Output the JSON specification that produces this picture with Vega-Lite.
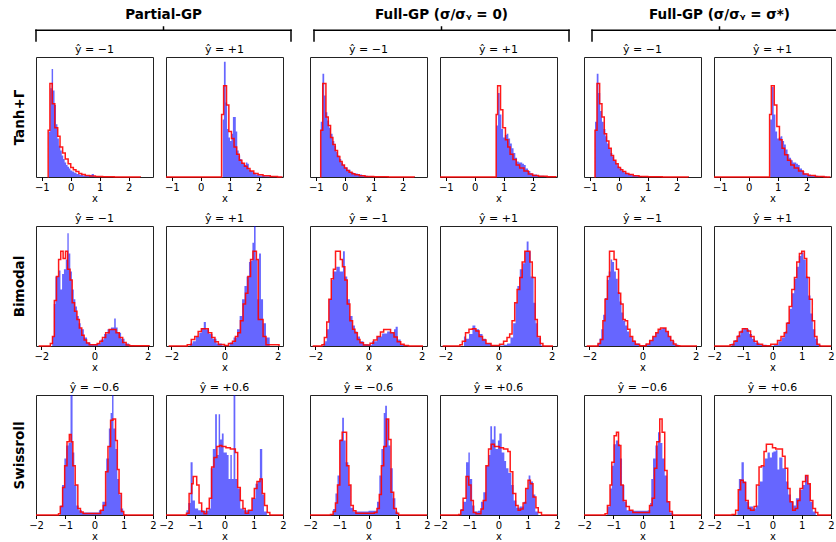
{
"$schema": "https://vega.github.io/schema/vega-lite/v6.json",
"padding": {"left": 11, "top": 8, "right": 0, "bottom": 0},
"config": {
  "font": "DejaVu Sans",
  "view": {"stroke": "#222", "strokeWidth": 1},
  "axis": {"grid": false, "domain": false, "tickColor": "#000", "labelColor": "#000", "titleColor": "#000", "labelFontSize": 10, "titleFontSize": 10, "titleFontWeight": "normal", "tickSize": 3.5, "labelPadding": 2, "titlePadding": 1, "labelFlush": false, "labelOverlap": false},
  "title": {"fontSize": 11, "fontWeight": "normal", "offset": 2, "color": "#000"}
},
"datasets": {
"bracket": [{"a":0,"a2":1,"b":1,"b2":1},{"a":0,"a2":0,"b":0,"b2":1},{"a":1,"a2":1,"b":0,"b2":1},{"a":0.5,"a2":0.5,"b":1,"b2":1.3}],
"b1": [{"x":-0.76,"h":0.38},{"x":-0.71,"h":0.74},{"x":-0.66,"h":0.9},{"x":-0.61,"h":0.72},{"x":-0.56,"h":0.6},{"x":-0.51,"h":0.44},{"x":-0.46,"h":0.32},{"x":-0.41,"h":0.26},{"x":-0.36,"h":0.22},{"x":-0.31,"h":0.18},{"x":-0.26,"h":0.15},{"x":-0.21,"h":0.12},{"x":-0.16,"h":0.1},{"x":-0.11,"h":0.085},{"x":-0.06,"h":0.07},{"x":-0.01,"h":0.055},{"x":0.05,"h":0.045},{"x":0.12,"h":0.035},{"x":0.2,"h":0.025},{"x":0.3,"h":0.018},{"x":0.42,"h":0.012},{"x":0.55,"h":0.01},{"x":0.65,"h":0.015},{"x":0.72,"h":0.025},{"x":0.8,"h":0.006},{"x":1.0,"h":0.003},{"x":1.3,"h":0}],
"r1": [{"x":-0.8,"h":0},{"x":-0.78,"h":0.39},{"x":-0.72,"h":0.78},{"x":-0.64,"h":0.61},{"x":-0.55,"h":0.41},{"x":-0.45,"h":0.34},{"x":-0.37,"h":0.25},{"x":-0.28,"h":0.2},{"x":-0.19,"h":0.15},{"x":-0.09,"h":0.11},{"x":0.0,"h":0.08},{"x":0.09,"h":0.06},{"x":0.18,"h":0.045},{"x":0.28,"h":0.03},{"x":0.38,"h":0.02},{"x":0.5,"h":0.013},{"x":0.65,"h":0.008},{"x":0.85,"h":0.004},{"x":1.1,"h":0.002},{"x":1.5,"h":0.001},{"x":2.4,"h":0}],
"b2": [{"x":0.76,"h":0.48},{"x":0.8,"h":0.96},{"x":0.86,"h":0.62},{"x":0.91,"h":0.4},{"x":0.96,"h":0.33},{"x":1.01,"h":0.3},{"x":1.06,"h":0.36},{"x":1.11,"h":0.5},{"x":1.16,"h":0.5},{"x":1.21,"h":0.38},{"x":1.26,"h":0.22},{"x":1.31,"h":0.18},{"x":1.36,"h":0.15},{"x":1.41,"h":0.12},{"x":1.46,"h":0.11},{"x":1.51,"h":0.1},{"x":1.56,"h":0.12},{"x":1.61,"h":0.11},{"x":1.66,"h":0.06},{"x":1.72,"h":0.05},{"x":1.8,"h":0.035},{"x":1.9,"h":0.02},{"x":2.0,"h":0.012},{"x":2.2,"h":0.006},{"x":2.5,"h":0.002},{"x":2.8,"h":0}],
"r2": [{"x":-1.2,"h":0},{"x":0.72,"h":0.52},{"x":0.79,"h":0.76},{"x":0.89,"h":0.6},{"x":0.97,"h":0.38},{"x":1.06,"h":0.32},{"x":1.15,"h":0.25},{"x":1.24,"h":0.19},{"x":1.33,"h":0.14},{"x":1.42,"h":0.115},{"x":1.51,"h":0.09},{"x":1.6,"h":0.07},{"x":1.7,"h":0.05},{"x":1.83,"h":0.03},{"x":1.98,"h":0.018},{"x":2.15,"h":0.01},{"x":2.4,"h":0.004},{"x":2.65,"h":0.001},{"x":2.8,"h":0}],
"b3": [{"x":-0.83,"h":0.46},{"x":-0.77,"h":0.86},{"x":-0.71,"h":0.68},{"x":-0.66,"h":0.54},{"x":-0.6,"h":0.47},{"x":-0.54,"h":0.41},{"x":-0.48,"h":0.36},{"x":-0.42,"h":0.3},{"x":-0.36,"h":0.26},{"x":-0.3,"h":0.21},{"x":-0.24,"h":0.18},{"x":-0.18,"h":0.15},{"x":-0.12,"h":0.12},{"x":-0.06,"h":0.1},{"x":0.0,"h":0.08},{"x":0.1,"h":0.06},{"x":0.2,"h":0.04},{"x":0.3,"h":0.03},{"x":0.45,"h":0.02},{"x":0.6,"h":0.01},{"x":0.8,"h":0.006},{"x":1.0,"h":0.003},{"x":1.4,"h":0}],
"r3": [{"x":-0.85,"h":0},{"x":-0.83,"h":0.39},{"x":-0.76,"h":0.78},{"x":-0.65,"h":0.5},{"x":-0.57,"h":0.43},{"x":-0.49,"h":0.33},{"x":-0.41,"h":0.27},{"x":-0.33,"h":0.22},{"x":-0.25,"h":0.17},{"x":-0.17,"h":0.13},{"x":-0.09,"h":0.1},{"x":-0.01,"h":0.075},{"x":0.07,"h":0.055},{"x":0.15,"h":0.04},{"x":0.25,"h":0.028},{"x":0.35,"h":0.018},{"x":0.5,"h":0.01},{"x":0.7,"h":0.005},{"x":1.0,"h":0.002},{"x":1.5,"h":0.001},{"x":2.4,"h":0}],
"b4": [{"x":0.74,"h":0.43},{"x":0.8,"h":0.7},{"x":0.86,"h":0.52},{"x":0.92,"h":0.4},{"x":0.98,"h":0.33},{"x":1.04,"h":0.35},{"x":1.1,"h":0.36},{"x":1.16,"h":0.32},{"x":1.22,"h":0.28},{"x":1.28,"h":0.24},{"x":1.34,"h":0.2},{"x":1.4,"h":0.16},{"x":1.46,"h":0.13},{"x":1.52,"h":0.12},{"x":1.58,"h":0.12},{"x":1.64,"h":0.11},{"x":1.7,"h":0.1},{"x":1.76,"h":0.07},{"x":1.84,"h":0.05},{"x":1.92,"h":0.03},{"x":2.0,"h":0.02},{"x":2.15,"h":0.01},{"x":2.4,"h":0.004},{"x":2.7,"h":0}],
"r4": [{"x":-1.2,"h":0},{"x":0.74,"h":0.52},{"x":0.79,"h":0.76},{"x":0.89,"h":0.56},{"x":0.97,"h":0.41},{"x":1.06,"h":0.31},{"x":1.14,"h":0.25},{"x":1.22,"h":0.19},{"x":1.32,"h":0.145},{"x":1.43,"h":0.1},{"x":1.55,"h":0.075},{"x":1.7,"h":0.05},{"x":1.85,"h":0.025},{"x":2.0,"h":0.012},{"x":2.2,"h":0.006},{"x":2.5,"h":0.002},{"x":2.8,"h":0}],
"b5": [{"x":-0.82,"h":0.46},{"x":-0.76,"h":0.86},{"x":-0.7,"h":0.7},{"x":-0.64,"h":0.55},{"x":-0.58,"h":0.46},{"x":-0.52,"h":0.4},{"x":-0.46,"h":0.34},{"x":-0.4,"h":0.28},{"x":-0.34,"h":0.24},{"x":-0.28,"h":0.2},{"x":-0.22,"h":0.17},{"x":-0.16,"h":0.14},{"x":-0.1,"h":0.11},{"x":-0.04,"h":0.09},{"x":0.02,"h":0.07},{"x":0.1,"h":0.05},{"x":0.2,"h":0.035},{"x":0.3,"h":0.025},{"x":0.45,"h":0.015},{"x":0.6,"h":0.008},{"x":0.8,"h":0.004},{"x":1.0,"h":0.002},{"x":1.4,"h":0}],
"r5": [{"x":-0.84,"h":0},{"x":-0.82,"h":0.39},{"x":-0.75,"h":0.78},{"x":-0.66,"h":0.61},{"x":-0.58,"h":0.5},{"x":-0.5,"h":0.36},{"x":-0.42,"h":0.3},{"x":-0.34,"h":0.24},{"x":-0.26,"h":0.18},{"x":-0.18,"h":0.14},{"x":-0.1,"h":0.11},{"x":-0.02,"h":0.08},{"x":0.06,"h":0.06},{"x":0.14,"h":0.045},{"x":0.24,"h":0.03},{"x":0.35,"h":0.02},{"x":0.5,"h":0.011},{"x":0.7,"h":0.005},{"x":1.0,"h":0.002},{"x":1.5,"h":0.001},{"x":2.4,"h":0}],
"b6": [{"x":0.74,"h":0.48},{"x":0.8,"h":0.75},{"x":0.86,"h":0.52},{"x":0.92,"h":0.38},{"x":0.98,"h":0.32},{"x":1.04,"h":0.33},{"x":1.1,"h":0.34},{"x":1.16,"h":0.3},{"x":1.22,"h":0.27},{"x":1.28,"h":0.23},{"x":1.34,"h":0.19},{"x":1.4,"h":0.16},{"x":1.46,"h":0.14},{"x":1.52,"h":0.12},{"x":1.58,"h":0.12},{"x":1.64,"h":0.11},{"x":1.7,"h":0.1},{"x":1.76,"h":0.07},{"x":1.84,"h":0.05},{"x":1.92,"h":0.03},{"x":2.0,"h":0.02},{"x":2.15,"h":0.01},{"x":2.4,"h":0.004},{"x":2.7,"h":0}],
"r6": [{"x":-1.2,"h":0},{"x":0.72,"h":0.52},{"x":0.78,"h":0.76},{"x":0.88,"h":0.6},{"x":0.97,"h":0.42},{"x":1.06,"h":0.31},{"x":1.15,"h":0.24},{"x":1.24,"h":0.185},{"x":1.34,"h":0.14},{"x":1.45,"h":0.1},{"x":1.57,"h":0.075},{"x":1.72,"h":0.05},{"x":1.88,"h":0.025},{"x":2.05,"h":0.012},{"x":2.3,"h":0.005},{"x":2.6,"h":0.001},{"x":2.8,"h":0}],
"b7": [{"x":-1.59,"h":0.08},{"x":-1.53,"h":0.35},{"x":-1.47,"h":0.58},{"x":-1.4,"h":0.58},{"x":-1.34,"h":0.63},{"x":-1.28,"h":0.47},{"x":-1.22,"h":0.6},{"x":-1.15,"h":0.64},{"x":-1.08,"h":0.72},{"x":-1.02,"h":0.94},{"x":-0.97,"h":0.77},{"x":-0.91,"h":0.62},{"x":-0.85,"h":0.47},{"x":-0.78,"h":0.39},{"x":-0.72,"h":0.33},{"x":-0.66,"h":0.25},{"x":-0.59,"h":0.19},{"x":-0.52,"h":0.14},{"x":-0.4,"h":0.07},{"x":-0.28,"h":0.03},{"x":-0.15,"h":0.015},{"x":0.1,"h":0.02},{"x":0.23,"h":0.055},{"x":0.36,"h":0.1},{"x":0.49,"h":0.14},{"x":0.62,"h":0.155},{"x":0.74,"h":0.23},{"x":0.8,"h":0.155},{"x":0.87,"h":0.11},{"x":1.0,"h":0.06},{"x":1.13,"h":0.02},{"x":1.3,"h":0.005},{"x":1.5,"h":0}],
"r7": [{"x":-2.1,"h":0},{"x":-1.66,"h":0.02},{"x":-1.58,"h":0.08},{"x":-1.51,"h":0.38},{"x":-1.43,"h":0.58},{"x":-1.35,"h":0.72},{"x":-1.27,"h":0.79},{"x":-1.18,"h":0.73},{"x":-1.09,"h":0.79},{"x":-1.01,"h":0.64},{"x":-0.92,"h":0.55},{"x":-0.84,"h":0.36},{"x":-0.75,"h":0.29},{"x":-0.66,"h":0.22},{"x":-0.57,"h":0.15},{"x":-0.48,"h":0.09},{"x":-0.39,"h":0.05},{"x":-0.3,"h":0.025},{"x":-0.2,"h":0.01},{"x":0.1,"h":0.02},{"x":0.2,"h":0.04},{"x":0.3,"h":0.07},{"x":0.42,"h":0.11},{"x":0.55,"h":0.138},{"x":0.81,"h":0.11},{"x":0.93,"h":0.07},{"x":1.06,"h":0.03},{"x":1.19,"h":0.008},{"x":1.32,"h":0.002},{"x":2.05,"h":0}],
"b8": [{"x":-1.3,"h":0.02},{"x":-1.2,"h":0.04},{"x":-1.08,"h":0.08},{"x":-0.95,"h":0.11},{"x":-0.86,"h":0.15},{"x":-0.78,"h":0.2},{"x":-0.7,"h":0.14},{"x":-0.58,"h":0.1},{"x":-0.45,"h":0.06},{"x":-0.3,"h":0.02},{"x":-0.1,"h":0.005},{"x":0.2,"h":0.03},{"x":0.34,"h":0.07},{"x":0.47,"h":0.14},{"x":0.57,"h":0.25},{"x":0.66,"h":0.39},{"x":0.75,"h":0.5},{"x":0.83,"h":0.58},{"x":0.92,"h":0.7},{"x":0.99,"h":0.71},{"x":1.05,"h":0.86},{"x":1.11,"h":1.0},{"x":1.17,"h":0.72},{"x":1.24,"h":0.39},{"x":1.3,"h":0.77},{"x":1.37,"h":0.39},{"x":1.45,"h":0.19},{"x":1.56,"h":0.07},{"x":1.7,"h":0}],
"r8": [{"x":-2.1,"h":0},{"x":-1.4,"h":0.01},{"x":-1.25,"h":0.055},{"x":-1.12,"h":0.08},{"x":-0.99,"h":0.12},{"x":-0.87,"h":0.144},{"x":-0.61,"h":0.11},{"x":-0.48,"h":0.07},{"x":-0.36,"h":0.035},{"x":-0.23,"h":0.013},{"x":0.0,"h":0.005},{"x":0.15,"h":0.02},{"x":0.3,"h":0.04},{"x":0.41,"h":0.08},{"x":0.5,"h":0.11},{"x":0.6,"h":0.21},{"x":0.7,"h":0.35},{"x":0.79,"h":0.44},{"x":0.88,"h":0.58},{"x":0.98,"h":0.72},{"x":1.07,"h":0.79},{"x":1.2,"h":0.72},{"x":1.27,"h":0.22},{"x":1.45,"h":0.08},{"x":1.56,"h":0.01},{"x":2.05,"h":0}],
"b9": [{"x":-1.7,"h":0.02},{"x":-1.63,"h":0.04},{"x":-1.57,"h":0.14},{"x":-1.49,"h":0.39},{"x":-1.4,"h":0.55},{"x":-1.34,"h":0.62},{"x":-1.21,"h":0.66},{"x":-1.08,"h":0.62},{"x":-0.96,"h":0.79},{"x":-0.89,"h":0.58},{"x":-0.8,"h":0.39},{"x":-0.7,"h":0.25},{"x":-0.6,"h":0.17},{"x":-0.51,"h":0.12},{"x":-0.42,"h":0.08},{"x":-0.32,"h":0.04},{"x":-0.19,"h":0.015},{"x":0.0,"h":0.01},{"x":0.13,"h":0.04},{"x":0.32,"h":0.08},{"x":0.51,"h":0.105},{"x":0.7,"h":0.12},{"x":0.83,"h":0.11},{"x":0.96,"h":0.14},{"x":1.02,"h":0.16},{"x":1.1,"h":0.055},{"x":1.21,"h":0.01},{"x":1.35,"h":0}],
"r9": [{"x":-2.1,"h":0},{"x":-1.75,"h":0.01},{"x":-1.66,"h":0.07},{"x":-1.57,"h":0.2},{"x":-1.49,"h":0.39},{"x":-1.4,"h":0.56},{"x":-1.32,"h":0.64},{"x":-1.24,"h":0.79},{"x":-1.15,"h":0.79},{"x":-1.06,"h":0.72},{"x":-0.98,"h":0.66},{"x":-0.89,"h":0.55},{"x":-0.8,"h":0.35},{"x":-0.7,"h":0.21},{"x":-0.6,"h":0.14},{"x":-0.51,"h":0.11},{"x":-0.42,"h":0.055},{"x":-0.32,"h":0.028},{"x":-0.19,"h":0.008},{"x":0.06,"h":0.022},{"x":0.19,"h":0.05},{"x":0.32,"h":0.08},{"x":0.45,"h":0.116},{"x":0.57,"h":0.138},{"x":0.83,"h":0.11},{"x":0.96,"h":0.075},{"x":1.08,"h":0.036},{"x":1.21,"h":0.014},{"x":1.34,"h":0.005},{"x":1.5,"h":0},{"x":2.05,"h":0}],
"b10": [{"x":-1.3,"h":0.08},{"x":-1.24,"h":0.06},{"x":-1.11,"h":0.1},{"x":-0.98,"h":0.17},{"x":-0.87,"h":0.14},{"x":-0.73,"h":0.1},{"x":-0.6,"h":0.06},{"x":-0.47,"h":0.02},{"x":-0.28,"h":0.005},{"x":0.19,"h":0.01},{"x":0.32,"h":0.02},{"x":0.45,"h":0.07},{"x":0.55,"h":0.19},{"x":0.64,"h":0.36},{"x":0.71,"h":0.5},{"x":0.8,"h":0.64},{"x":0.9,"h":0.69},{"x":0.99,"h":0.79},{"x":1.06,"h":0.87},{"x":1.13,"h":0.79},{"x":1.21,"h":0.58},{"x":1.32,"h":0.36},{"x":1.4,"h":0.19},{"x":1.48,"h":0.07},{"x":1.6,"h":0.005},{"x":1.7,"h":0}],
"r10": [{"x":-2.1,"h":0},{"x":-1.45,"h":0.01},{"x":-1.36,"h":0.04},{"x":-1.24,"h":0.11},{"x":-1.11,"h":0.14},{"x":-0.98,"h":0.144},{"x":-0.85,"h":0.125},{"x":-0.73,"h":0.08},{"x":-0.6,"h":0.05},{"x":-0.47,"h":0.02},{"x":-0.28,"h":0.005},{"x":0.04,"h":0.015},{"x":0.19,"h":0.04},{"x":0.32,"h":0.07},{"x":0.42,"h":0.1},{"x":0.51,"h":0.21},{"x":0.61,"h":0.36},{"x":0.7,"h":0.47},{"x":0.8,"h":0.57},{"x":0.89,"h":0.7},{"x":0.99,"h":0.79},{"x":1.08,"h":0.79},{"x":1.18,"h":0.7},{"x":1.27,"h":0.57},{"x":1.38,"h":0.22},{"x":1.46,"h":0.08},{"x":1.57,"h":0.02},{"x":1.67,"h":0},{"x":2.05,"h":0}],
"b11": [{"x":-1.7,"h":0.02},{"x":-1.62,"h":0.06},{"x":-1.55,"h":0.14},{"x":-1.48,"h":0.26},{"x":-1.41,"h":0.4},{"x":-1.34,"h":0.55},{"x":-1.27,"h":0.62},{"x":-1.2,"h":0.72},{"x":-1.14,"h":0.7},{"x":-1.07,"h":0.62},{"x":-1.0,"h":0.56},{"x":-0.93,"h":0.45},{"x":-0.86,"h":0.37},{"x":-0.79,"h":0.28},{"x":-0.72,"h":0.21},{"x":-0.65,"h":0.17},{"x":-0.58,"h":0.12},{"x":-0.5,"h":0.08},{"x":-0.4,"h":0.045},{"x":-0.28,"h":0.02},{"x":-0.12,"h":0.005},{"x":0.1,"h":0.015},{"x":0.25,"h":0.045},{"x":0.38,"h":0.08},{"x":0.5,"h":0.11},{"x":0.62,"h":0.14},{"x":0.75,"h":0.15},{"x":0.88,"h":0.12},{"x":0.98,"h":0.08},{"x":1.08,"h":0.04},{"x":1.2,"h":0.012},{"x":1.35,"h":0}],
"r11": [{"x":-2.1,"h":0},{"x":-1.67,"h":0.02},{"x":-1.58,"h":0.055},{"x":-1.49,"h":0.21},{"x":-1.41,"h":0.39},{"x":-1.32,"h":0.58},{"x":-1.24,"h":0.79},{"x":-1.16,"h":0.79},{"x":-1.07,"h":0.72},{"x":-0.98,"h":0.64},{"x":-0.9,"h":0.44},{"x":-0.82,"h":0.35},{"x":-0.73,"h":0.22},{"x":-0.65,"h":0.21},{"x":-0.56,"h":0.14},{"x":-0.47,"h":0.08},{"x":-0.37,"h":0.04},{"x":-0.27,"h":0.015},{"x":-0.11,"h":0.003},{"x":0.14,"h":0.016},{"x":0.27,"h":0.045},{"x":0.39,"h":0.08},{"x":0.5,"h":0.11},{"x":0.59,"h":0.14},{"x":0.68,"h":0.15},{"x":0.88,"h":0.12},{"x":0.97,"h":0.08},{"x":1.06,"h":0.045},{"x":1.16,"h":0.016},{"x":1.26,"h":0.003},{"x":1.4,"h":0},{"x":2.05,"h":0}],
"b12": [{"x":-1.4,"h":0.02},{"x":-1.3,"h":0.05},{"x":-1.2,"h":0.09},{"x":-1.1,"h":0.13},{"x":-1.0,"h":0.15},{"x":-0.9,"h":0.14},{"x":-0.8,"h":0.1},{"x":-0.7,"h":0.06},{"x":-0.6,"h":0.03},{"x":-0.45,"h":0.01},{"x":-0.2,"h":0.003},{"x":0.05,"h":0.01},{"x":0.2,"h":0.04},{"x":0.32,"h":0.07},{"x":0.42,"h":0.12},{"x":0.5,"h":0.2},{"x":0.58,"h":0.31},{"x":0.66,"h":0.44},{"x":0.74,"h":0.56},{"x":0.82,"h":0.66},{"x":0.9,"h":0.75},{"x":0.98,"h":0.78},{"x":1.06,"h":0.72},{"x":1.14,"h":0.58},{"x":1.22,"h":0.42},{"x":1.3,"h":0.27},{"x":1.38,"h":0.14},{"x":1.46,"h":0.06},{"x":1.55,"h":0.01},{"x":1.65,"h":0}],
"r12": [{"x":-2.0,"h":0},{"x":-1.45,"h":0.01},{"x":-1.32,"h":0.04},{"x":-1.21,"h":0.08},{"x":-1.13,"h":0.116},{"x":-1.03,"h":0.144},{"x":-0.86,"h":0.125},{"x":-0.75,"h":0.08},{"x":-0.63,"h":0.04},{"x":-0.52,"h":0.015},{"x":-0.34,"h":0.003},{"x":-0.06,"h":0.014},{"x":0.17,"h":0.045},{"x":0.29,"h":0.08},{"x":0.4,"h":0.11},{"x":0.48,"h":0.19},{"x":0.57,"h":0.33},{"x":0.66,"h":0.47},{"x":0.75,"h":0.57},{"x":0.83,"h":0.7},{"x":0.92,"h":0.77},{"x":1.0,"h":0.79},{"x":1.09,"h":0.73},{"x":1.17,"h":0.57},{"x":1.26,"h":0.39},{"x":1.36,"h":0.21},{"x":1.44,"h":0.08},{"x":1.52,"h":0.015},{"x":1.61,"h":0},{"x":2.0,"h":0}],
"b13": [{"x":-1.17,"h":0.08},{"x":-1.11,"h":0.25},{"x":-1.03,"h":0.47},{"x":-0.97,"h":0.58},{"x":-0.89,"h":0.6},{"x":-0.82,"h":1.0},{"x":-0.75,"h":0.52},{"x":-0.69,"h":0.25},{"x":-0.62,"h":0.08},{"x":-0.54,"h":0.04},{"x":-0.43,"h":0.02},{"x":0.15,"h":0.04},{"x":0.27,"h":0.11},{"x":0.4,"h":0.47},{"x":0.49,"h":0.72},{"x":0.55,"h":0.85},{"x":0.6,"h":1.0},{"x":0.65,"h":0.72},{"x":0.72,"h":0.55},{"x":0.78,"h":0.3},{"x":0.84,"h":0.17},{"x":0.9,"h":0.055},{"x":0.98,"h":0.005},{"x":1.1,"h":0}],
"r13": [{"x":-2.0,"h":0},{"x":-1.23,"h":0.01},{"x":-1.17,"h":0.07},{"x":-1.09,"h":0.23},{"x":-1.02,"h":0.41},{"x":-0.94,"h":0.61},{"x":-0.86,"h":0.67},{"x":-0.8,"h":0.61},{"x":-0.74,"h":0.41},{"x":-0.66,"h":0.25},{"x":-0.57,"h":0.055},{"x":-0.48,"h":0.025},{"x":-0.39,"h":0.012},{"x":0.21,"h":0.04},{"x":0.3,"h":0.08},{"x":0.38,"h":0.36},{"x":0.46,"h":0.57},{"x":0.55,"h":0.79},{"x":0.63,"h":0.8},{"x":0.72,"h":0.62},{"x":0.78,"h":0.38},{"x":0.84,"h":0.18},{"x":0.92,"h":0.03},{"x":1.0,"h":0},{"x":2.0,"h":0}],
"b14": [{"x":-1.3,"h":0.04},{"x":-1.24,"h":0.1},{"x":-1.16,"h":0.44},{"x":-1.09,"h":0.12},{"x":-1.01,"h":0.055},{"x":-0.9,"h":0.04},{"x":-0.72,"h":0.035},{"x":-0.55,"h":0.055},{"x":-0.47,"h":0.39},{"x":-0.4,"h":0.55},{"x":-0.32,"h":0.84},{"x":-0.26,"h":0.5},{"x":-0.2,"h":0.84},{"x":-0.15,"h":0.63},{"x":-0.09,"h":0.68},{"x":-0.03,"h":0.52},{"x":0.08,"h":0.5},{"x":0.14,"h":0.3},{"x":0.2,"h":0.5},{"x":0.25,"h":0.3},{"x":0.31,"h":1.0},{"x":0.37,"h":0.3},{"x":0.45,"h":0.22},{"x":0.54,"h":0.055},{"x":0.66,"h":0.04},{"x":0.84,"h":0.04},{"x":0.94,"h":0.14},{"x":1.06,"h":0.26},{"x":1.14,"h":0.28},{"x":1.21,"h":0.55},{"x":1.29,"h":0.17},{"x":1.35,"h":0.03},{"x":1.45,"h":0}],
"r14": [{"x":-2.0,"h":0},{"x":-1.3,"h":0.015},{"x":-1.21,"h":0.18},{"x":-1.12,"h":0.26},{"x":-1.07,"h":0.32},{"x":-0.95,"h":0.25},{"x":-0.87,"h":0.1},{"x":-0.78,"h":0.03},{"x":-0.7,"h":0.01},{"x":-0.61,"h":0.055},{"x":-0.52,"h":0.14},{"x":-0.44,"h":0.4},{"x":-0.36,"h":0.48},{"x":-0.26,"h":0.57},{"x":-0.17,"h":0.58},{"x":-0.09,"h":0.57},{"x":0.05,"h":0.56},{"x":0.2,"h":0.55},{"x":0.37,"h":0.52},{"x":0.45,"h":0.23},{"x":0.54,"h":0.12},{"x":0.63,"h":0.055},{"x":0.71,"h":0.015},{"x":0.82,"h":0.04},{"x":0.94,"h":0.14},{"x":1.02,"h":0.22},{"x":1.11,"h":0.28},{"x":1.21,"h":0.3},{"x":1.29,"h":0.18},{"x":1.37,"h":0.08},{"x":1.46,"h":0.02},{"x":1.55,"h":0},{"x":2.0,"h":0}],
"b15": [{"x":-1.21,"h":0.05},{"x":-1.13,"h":0.18},{"x":-1.06,"h":0.33},{"x":-0.98,"h":0.63},{"x":-0.9,"h":0.81},{"x":-0.84,"h":0.62},{"x":-0.78,"h":0.44},{"x":-0.69,"h":0.25},{"x":-0.61,"h":0.06},{"x":-0.52,"h":0.03},{"x":-0.4,"h":0.03},{"x":0.0,"h":0.035},{"x":0.29,"h":0.11},{"x":0.37,"h":0.33},{"x":0.44,"h":0.55},{"x":0.52,"h":0.85},{"x":0.57,"h":0.91},{"x":0.63,"h":0.8},{"x":0.69,"h":0.58},{"x":0.75,"h":0.39},{"x":0.83,"h":0.14},{"x":0.92,"h":0.03},{"x":1.0,"h":0}],
"r15": [{"x":-2.0,"h":0},{"x":-1.3,"h":0.005},{"x":-1.21,"h":0.03},{"x":-1.13,"h":0.1},{"x":-1.06,"h":0.25},{"x":-0.98,"h":0.62},{"x":-0.9,"h":0.69},{"x":-0.75,"h":0.41},{"x":-0.67,"h":0.25},{"x":-0.6,"h":0.08},{"x":-0.52,"h":0.035},{"x":-0.43,"h":0.015},{"x":0.2,"h":0.02},{"x":0.29,"h":0.055},{"x":0.37,"h":0.17},{"x":0.44,"h":0.41},{"x":0.52,"h":0.57},{"x":0.61,"h":0.8},{"x":0.69,"h":0.63},{"x":0.77,"h":0.19},{"x":0.86,"h":0.055},{"x":0.95,"h":0.015},{"x":1.03,"h":0},{"x":2.0,"h":0}],
"b16": [{"x":-1.29,"h":0.05},{"x":-1.21,"h":0.11},{"x":-1.11,"h":0.44},{"x":-1.03,"h":0.52},{"x":-0.98,"h":0.3},{"x":-0.9,"h":0.08},{"x":-0.82,"h":0.03},{"x":-0.7,"h":0.035},{"x":-0.6,"h":0.11},{"x":-0.52,"h":0.19},{"x":-0.43,"h":0.41},{"x":-0.34,"h":0.5},{"x":-0.28,"h":0.74},{"x":-0.22,"h":0.63},{"x":-0.16,"h":0.74},{"x":-0.1,"h":0.55},{"x":-0.02,"h":0.62},{"x":0.03,"h":0.68},{"x":0.11,"h":0.52},{"x":0.2,"h":0.45},{"x":0.26,"h":0.39},{"x":0.34,"h":0.35},{"x":0.44,"h":0.25},{"x":0.52,"h":0.12},{"x":0.61,"h":0.06},{"x":0.72,"h":0.07},{"x":0.86,"h":0.11},{"x":0.95,"h":0.22},{"x":1.03,"h":0.33},{"x":1.09,"h":0.28},{"x":1.18,"h":0.17},{"x":1.26,"h":0.03},{"x":1.36,"h":0}],
"r16": [{"x":-2.0,"h":0},{"x":-1.36,"h":0.005},{"x":-1.29,"h":0.04},{"x":-1.21,"h":0.14},{"x":-1.11,"h":0.32},{"x":-1.02,"h":0.25},{"x":-0.94,"h":0.12},{"x":-0.86,"h":0.02},{"x":-0.77,"h":0.01},{"x":-0.6,"h":0.05},{"x":-0.52,"h":0.12},{"x":-0.43,"h":0.41},{"x":-0.34,"h":0.55},{"x":-0.25,"h":0.59},{"x":-0.14,"h":0.57},{"x":0.03,"h":0.56},{"x":0.17,"h":0.55},{"x":0.32,"h":0.53},{"x":0.4,"h":0.36},{"x":0.49,"h":0.18},{"x":0.59,"h":0.08},{"x":0.67,"h":0.04},{"x":0.75,"h":0.05},{"x":0.84,"h":0.1},{"x":0.93,"h":0.22},{"x":1.01,"h":0.29},{"x":1.09,"h":0.26},{"x":1.18,"h":0.15},{"x":1.28,"h":0.06},{"x":1.36,"h":0.02},{"x":1.47,"h":0},{"x":2.0,"h":0}],
"b17": [{"x":-1.2,"h":0.07},{"x":-1.11,"h":0.22},{"x":-1.05,"h":0.41},{"x":-0.99,"h":0.59},{"x":-0.91,"h":0.62},{"x":-0.83,"h":0.59},{"x":-0.77,"h":0.47},{"x":-0.7,"h":0.25},{"x":-0.62,"h":0.11},{"x":-0.54,"h":0.04},{"x":-0.4,"h":0.035},{"x":0.0,"h":0.035},{"x":0.18,"h":0.04},{"x":0.26,"h":0.1},{"x":0.3,"h":0.3},{"x":0.36,"h":0.47},{"x":0.44,"h":0.58},{"x":0.53,"h":0.69},{"x":0.61,"h":0.6},{"x":0.68,"h":0.47},{"x":0.76,"h":0.33},{"x":0.84,"h":0.11},{"x":0.93,"h":0.02},{"x":1.05,"h":0}],
"r17": [{"x":-2.0,"h":0},{"x":-1.28,"h":0.01},{"x":-1.2,"h":0.08},{"x":-1.11,"h":0.25},{"x":-1.05,"h":0.44},{"x":-0.97,"h":0.66},{"x":-0.89,"h":0.69},{"x":-0.82,"h":0.58},{"x":-0.74,"h":0.25},{"x":-0.66,"h":0.12},{"x":-0.56,"h":0.07},{"x":-0.45,"h":0.04},{"x":-0.33,"h":0.02},{"x":0.24,"h":0.08},{"x":0.33,"h":0.14},{"x":0.41,"h":0.39},{"x":0.49,"h":0.61},{"x":0.59,"h":0.8},{"x":0.67,"h":0.69},{"x":0.76,"h":0.37},{"x":0.84,"h":0.11},{"x":0.93,"h":0.03},{"x":1.02,"h":0},{"x":2.0,"h":0}],
"b18": [{"x":-1.2,"h":0.04},{"x":-1.15,"h":0.3},{"x":-1.06,"h":0.44},{"x":-0.98,"h":0.28},{"x":-0.9,"h":0.11},{"x":-0.8,"h":0.07},{"x":-0.66,"h":0.055},{"x":-0.57,"h":0.08},{"x":-0.49,"h":0.25},{"x":-0.43,"h":0.28},{"x":-0.34,"h":0.41},{"x":-0.26,"h":0.47},{"x":-0.17,"h":0.52},{"x":-0.09,"h":0.48},{"x":-0.02,"h":0.52},{"x":0.03,"h":0.53},{"x":0.11,"h":0.54},{"x":0.17,"h":0.38},{"x":0.23,"h":0.48},{"x":0.34,"h":0.39},{"x":0.46,"h":0.28},{"x":0.54,"h":0.17},{"x":0.63,"h":0.11},{"x":0.72,"h":0.08},{"x":0.8,"h":0.14},{"x":0.92,"h":0.21},{"x":1.03,"h":0.25},{"x":1.11,"h":0.33},{"x":1.21,"h":0.26},{"x":1.29,"h":0.11},{"x":1.38,"h":0.03},{"x":1.48,"h":0}],
"r18": [{"x":-2.0,"h":0},{"x":-1.38,"h":0.005},{"x":-1.26,"h":0.04},{"x":-1.17,"h":0.21},{"x":-1.09,"h":0.29},{"x":-1.0,"h":0.27},{"x":-0.92,"h":0.12},{"x":-0.83,"h":0.055},{"x":-0.75,"h":0.04},{"x":-0.63,"h":0.07},{"x":-0.55,"h":0.25},{"x":-0.46,"h":0.4},{"x":-0.38,"h":0.41},{"x":-0.29,"h":0.53},{"x":-0.21,"h":0.59},{"x":0.0,"h":0.56},{"x":0.11,"h":0.55},{"x":0.34,"h":0.49},{"x":0.43,"h":0.39},{"x":0.52,"h":0.22},{"x":0.6,"h":0.11},{"x":0.69,"h":0.04},{"x":0.78,"h":0.055},{"x":0.86,"h":0.12},{"x":0.94,"h":0.22},{"x":1.03,"h":0.28},{"x":1.13,"h":0.33},{"x":1.21,"h":0.26},{"x":1.29,"h":0.12},{"x":1.38,"h":0.055},{"x":1.47,"h":0.02},{"x":1.55,"h":0},{"x":2.0,"h":0}]
},
"vconcat": [
 {"hconcat": [
   {"width": 255, "height": 14, "view": {"stroke": null},
    "title": {"text": "Partial-GP", "fontSize": 13.5, "fontWeight": "bold", "offset": 4},
    "data": {"name": "bracket"},
    "mark": {"type": "rule", "color": "#000", "strokeWidth": 1.5, "strokeCap": "square"},
    "encoding": {"x": {"field": "a", "type": "quantitative", "scale": {"domain": [0, 1], "nice": false}, "axis": null}, "x2": {"field": "a2"},
                 "y": {"field": "b", "type": "quantitative", "scale": {"domain": [0, 1.3], "nice": false}, "axis": {"title": "T", "titleOpacity": 0, "labels": false, "ticks": false, "titleFontSize": 13.5, "titleFontWeight": "bold", "titlePadding": 6}}, "y2": {"field": "b2"}}},
   {"width": 255, "height": 14, "view": {"stroke": null},
    "title": {"text": "Full-GP (σ/σᵧ = 0)", "fontSize": 13.5, "fontWeight": "bold", "offset": 4},
    "data": {"name": "bracket"},
    "mark": {"type": "rule", "color": "#000", "strokeWidth": 1.5, "strokeCap": "square"},
    "encoding": {"x": {"field": "a", "type": "quantitative", "scale": {"domain": [0, 1], "nice": false}, "axis": null}, "x2": {"field": "a2"},
                 "y": {"field": "b", "type": "quantitative", "scale": {"domain": [0, 1.3], "nice": false}, "axis": null}, "y2": {"field": "b2"}}},
   {"width": 255, "height": 14, "view": {"stroke": null},
    "title": {"text": "Full-GP (σ/σᵧ = σ*)", "fontSize": 13.5, "fontWeight": "bold", "offset": 4},
    "data": {"name": "bracket"},
    "mark": {"type": "rule", "color": "#000", "strokeWidth": 1.5, "strokeCap": "square"},
    "encoding": {"x": {"field": "a", "type": "quantitative", "scale": {"domain": [0, 1], "nice": false}, "axis": null}, "x2": {"field": "a2"},
                 "y": {"field": "b", "type": "quantitative", "scale": {"domain": [0, 1.3], "nice": false}, "axis": null}, "y2": {"field": "b2"}}}
 ], "spacing": 19},
 {"columns": 8, "spacing": {"row": 49, "column": 13}, "align": "each", "bounds": "flush",
  "concat": [
   {"width": 117, "height": 120, "title": "ŷ = −1",
    "encoding": {"x": {"field": "x", "type": "quantitative", "scale": {"domain": [-1.2, 2.84], "nice": false, "zero": false}, "axis": {"values": [-1, 0, 1, 2], "format": "d", "title": "x", "labelExpr": "replace(datum.label, '-', '−')"}},
                 "y": {"field": "h", "type": "quantitative", "stack": null, "scale": {"domain": [0, 1], "nice": false}, "axis": {"title": "Tanh+Γ", "labels": false, "ticks": false, "titleFontSize": 13.5, "titleFontWeight": "bold", "titlePadding": 10}}},
    "layer": [{"data": {"name": "b1"}, "mark": {"type": "area", "interpolate": "step-after", "color": "#0000ff", "opacity": 0.6}},
              {"data": {"name": "r1"}, "mark": {"type": "line", "interpolate": "step-after", "color": "#ff0000", "strokeWidth": 1.5, "strokeJoin": "miter", "opacity": 0.9}}]},
   {"width": 117, "height": 120, "title": "ŷ = +1",
    "encoding": {"x": {"field": "x", "type": "quantitative", "scale": {"domain": [-1.2, 2.84], "nice": false, "zero": false}, "axis": {"values": [-1, 0, 1, 2], "format": "d", "title": "x", "labelExpr": "replace(datum.label, '-', '−')"}},
                 "y": {"field": "h", "type": "quantitative", "stack": null, "scale": {"domain": [0, 1], "nice": false}, "axis": null}},
    "layer": [{"data": {"name": "b2"}, "mark": {"type": "area", "interpolate": "step-after", "color": "#0000ff", "opacity": 0.6}},
              {"data": {"name": "r2"}, "mark": {"type": "line", "interpolate": "step-after", "color": "#ff0000", "strokeWidth": 1.5, "strokeJoin": "miter", "opacity": 0.9}}]},
   {"width": 1, "height": 1, "view": {"stroke": null}, "data": {"values": [{}]}, "mark": {"type": "point", "opacity": 0}, "encoding": {}},
   {"width": 117, "height": 120, "title": "ŷ = −1",
    "encoding": {"x": {"field": "x", "type": "quantitative", "scale": {"domain": [-1.2, 2.84], "nice": false, "zero": false}, "axis": {"values": [-1, 0, 1, 2], "format": "d", "title": "x", "labelExpr": "replace(datum.label, '-', '−')"}},
                 "y": {"field": "h", "type": "quantitative", "stack": null, "scale": {"domain": [0, 1], "nice": false}, "axis": null}},
    "layer": [{"data": {"name": "b3"}, "mark": {"type": "area", "interpolate": "step-after", "color": "#0000ff", "opacity": 0.6}},
              {"data": {"name": "r3"}, "mark": {"type": "line", "interpolate": "step-after", "color": "#ff0000", "strokeWidth": 1.5, "strokeJoin": "miter", "opacity": 0.9}}]},
   {"width": 117, "height": 120, "title": "ŷ = +1",
    "encoding": {"x": {"field": "x", "type": "quantitative", "scale": {"domain": [-1.2, 2.84], "nice": false, "zero": false}, "axis": {"values": [-1, 0, 1, 2], "format": "d", "title": "x", "labelExpr": "replace(datum.label, '-', '−')"}},
                 "y": {"field": "h", "type": "quantitative", "stack": null, "scale": {"domain": [0, 1], "nice": false}, "axis": null}},
    "layer": [{"data": {"name": "b4"}, "mark": {"type": "area", "interpolate": "step-after", "color": "#0000ff", "opacity": 0.6}},
              {"data": {"name": "r4"}, "mark": {"type": "line", "interpolate": "step-after", "color": "#ff0000", "strokeWidth": 1.5, "strokeJoin": "miter", "opacity": 0.9}}]},
   {"width": 1, "height": 1, "view": {"stroke": null}, "data": {"values": [{}]}, "mark": {"type": "point", "opacity": 0}, "encoding": {}},
   {"width": 117, "height": 120, "title": "ŷ = −1",
    "encoding": {"x": {"field": "x", "type": "quantitative", "scale": {"domain": [-1.2, 2.84], "nice": false, "zero": false}, "axis": {"values": [-1, 0, 1, 2], "format": "d", "title": "x", "labelExpr": "replace(datum.label, '-', '−')"}},
                 "y": {"field": "h", "type": "quantitative", "stack": null, "scale": {"domain": [0, 1], "nice": false}, "axis": null}},
    "layer": [{"data": {"name": "b5"}, "mark": {"type": "area", "interpolate": "step-after", "color": "#0000ff", "opacity": 0.6}},
              {"data": {"name": "r5"}, "mark": {"type": "line", "interpolate": "step-after", "color": "#ff0000", "strokeWidth": 1.5, "strokeJoin": "miter", "opacity": 0.9}}]},
   {"width": 117, "height": 120, "title": "ŷ = +1",
    "encoding": {"x": {"field": "x", "type": "quantitative", "scale": {"domain": [-1.2, 2.84], "nice": false, "zero": false}, "axis": {"values": [-1, 0, 1, 2], "format": "d", "title": "x", "labelExpr": "replace(datum.label, '-', '−')"}},
                 "y": {"field": "h", "type": "quantitative", "stack": null, "scale": {"domain": [0, 1], "nice": false}, "axis": null}},
    "layer": [{"data": {"name": "b6"}, "mark": {"type": "area", "interpolate": "step-after", "color": "#0000ff", "opacity": 0.6}},
              {"data": {"name": "r6"}, "mark": {"type": "line", "interpolate": "step-after", "color": "#ff0000", "strokeWidth": 1.5, "strokeJoin": "miter", "opacity": 0.9}}]},

   {"width": 117, "height": 120, "title": "ŷ = −1",
    "encoding": {"x": {"field": "x", "type": "quantitative", "scale": {"domain": [-2.2, 2.2], "nice": false, "zero": false}, "axis": {"values": [-2, 0, 2], "format": "d", "title": "x", "labelExpr": "replace(datum.label, '-', '−')"}},
                 "y": {"field": "h", "type": "quantitative", "stack": null, "scale": {"domain": [0, 1], "nice": false}, "axis": {"title": "Bimodal", "labels": false, "ticks": false, "titleFontSize": 13.5, "titleFontWeight": "bold", "titlePadding": 10}}},
    "layer": [{"data": {"name": "b7"}, "mark": {"type": "area", "interpolate": "step-after", "color": "#0000ff", "opacity": 0.6}},
              {"data": {"name": "r7"}, "mark": {"type": "line", "interpolate": "step-after", "color": "#ff0000", "strokeWidth": 1.5, "strokeJoin": "miter", "opacity": 0.9}}]},
   {"width": 117, "height": 120, "title": "ŷ = +1",
    "encoding": {"x": {"field": "x", "type": "quantitative", "scale": {"domain": [-2.2, 2.2], "nice": false, "zero": false}, "axis": {"values": [-2, 0, 2], "format": "d", "title": "x", "labelExpr": "replace(datum.label, '-', '−')"}},
                 "y": {"field": "h", "type": "quantitative", "stack": null, "scale": {"domain": [0, 1], "nice": false}, "axis": null}},
    "layer": [{"data": {"name": "b8"}, "mark": {"type": "area", "interpolate": "step-after", "color": "#0000ff", "opacity": 0.6}},
              {"data": {"name": "r8"}, "mark": {"type": "line", "interpolate": "step-after", "color": "#ff0000", "strokeWidth": 1.5, "strokeJoin": "miter", "opacity": 0.9}}]},
   {"width": 1, "height": 1, "view": {"stroke": null}, "data": {"values": [{}]}, "mark": {"type": "point", "opacity": 0}, "encoding": {}},
   {"width": 117, "height": 120, "title": "ŷ = −1",
    "encoding": {"x": {"field": "x", "type": "quantitative", "scale": {"domain": [-2.2, 2.2], "nice": false, "zero": false}, "axis": {"values": [-2, 0, 2], "format": "d", "title": "x", "labelExpr": "replace(datum.label, '-', '−')"}},
                 "y": {"field": "h", "type": "quantitative", "stack": null, "scale": {"domain": [0, 1], "nice": false}, "axis": null}},
    "layer": [{"data": {"name": "b9"}, "mark": {"type": "area", "interpolate": "step-after", "color": "#0000ff", "opacity": 0.6}},
              {"data": {"name": "r9"}, "mark": {"type": "line", "interpolate": "step-after", "color": "#ff0000", "strokeWidth": 1.5, "strokeJoin": "miter", "opacity": 0.9}}]},
   {"width": 117, "height": 120, "title": "ŷ = +1",
    "encoding": {"x": {"field": "x", "type": "quantitative", "scale": {"domain": [-2.2, 2.2], "nice": false, "zero": false}, "axis": {"values": [-2, 0, 2], "format": "d", "title": "x", "labelExpr": "replace(datum.label, '-', '−')"}},
                 "y": {"field": "h", "type": "quantitative", "stack": null, "scale": {"domain": [0, 1], "nice": false}, "axis": null}},
    "layer": [{"data": {"name": "b10"}, "mark": {"type": "area", "interpolate": "step-after", "color": "#0000ff", "opacity": 0.6}},
              {"data": {"name": "r10"}, "mark": {"type": "line", "interpolate": "step-after", "color": "#ff0000", "strokeWidth": 1.5, "strokeJoin": "miter", "opacity": 0.9}}]},
   {"width": 1, "height": 1, "view": {"stroke": null}, "data": {"values": [{}]}, "mark": {"type": "point", "opacity": 0}, "encoding": {}},
   {"width": 117, "height": 120, "title": "ŷ = −1",
    "encoding": {"x": {"field": "x", "type": "quantitative", "scale": {"domain": [-2.2, 2.2], "nice": false, "zero": false}, "axis": {"values": [-2, 0, 2], "format": "d", "title": "x", "labelExpr": "replace(datum.label, '-', '−')"}},
                 "y": {"field": "h", "type": "quantitative", "stack": null, "scale": {"domain": [0, 1], "nice": false}, "axis": null}},
    "layer": [{"data": {"name": "b11"}, "mark": {"type": "area", "interpolate": "step-after", "color": "#0000ff", "opacity": 0.6}},
              {"data": {"name": "r11"}, "mark": {"type": "line", "interpolate": "step-after", "color": "#ff0000", "strokeWidth": 1.5, "strokeJoin": "miter", "opacity": 0.9}}]},
   {"width": 117, "height": 120, "title": "ŷ = +1",
    "encoding": {"x": {"field": "x", "type": "quantitative", "scale": {"domain": [-2, 2], "nice": false, "zero": false}, "axis": {"values": [-2, -1, 0, 1, 2], "format": "d", "title": "x", "labelExpr": "replace(datum.label, '-', '−')"}},
                 "y": {"field": "h", "type": "quantitative", "stack": null, "scale": {"domain": [0, 1], "nice": false}, "axis": null}},
    "layer": [{"data": {"name": "b12"}, "mark": {"type": "area", "interpolate": "step-after", "color": "#0000ff", "opacity": 0.6}},
              {"data": {"name": "r12"}, "mark": {"type": "line", "interpolate": "step-after", "color": "#ff0000", "strokeWidth": 1.5, "strokeJoin": "miter", "opacity": 0.9}}]},

   {"width": 117, "height": 120, "title": "ŷ = −0.6",
    "encoding": {"x": {"field": "x", "type": "quantitative", "scale": {"domain": [-2, 2], "nice": false, "zero": false}, "axis": {"values": [-2, -1, 0, 1, 2], "format": "d", "title": "x", "labelExpr": "replace(datum.label, '-', '−')"}},
                 "y": {"field": "h", "type": "quantitative", "stack": null, "scale": {"domain": [0, 1], "nice": false}, "axis": {"title": "Swissroll", "labels": false, "ticks": false, "titleFontSize": 13.5, "titleFontWeight": "bold", "titlePadding": 10}}},
    "layer": [{"data": {"name": "b13"}, "mark": {"type": "area", "interpolate": "step-after", "color": "#0000ff", "opacity": 0.6}},
              {"data": {"name": "r13"}, "mark": {"type": "line", "interpolate": "step-after", "color": "#ff0000", "strokeWidth": 1.5, "strokeJoin": "miter", "opacity": 0.9}}]},
   {"width": 117, "height": 120, "title": "ŷ = +0.6",
    "encoding": {"x": {"field": "x", "type": "quantitative", "scale": {"domain": [-2, 2], "nice": false, "zero": false}, "axis": {"values": [-2, -1, 0, 1, 2], "format": "d", "title": "x", "labelExpr": "replace(datum.label, '-', '−')"}},
                 "y": {"field": "h", "type": "quantitative", "stack": null, "scale": {"domain": [0, 1], "nice": false}, "axis": null}},
    "layer": [{"data": {"name": "b14"}, "mark": {"type": "area", "interpolate": "step-after", "color": "#0000ff", "opacity": 0.6}},
              {"data": {"name": "r14"}, "mark": {"type": "line", "interpolate": "step-after", "color": "#ff0000", "strokeWidth": 1.5, "strokeJoin": "miter", "opacity": 0.9}}]},
   {"width": 1, "height": 1, "view": {"stroke": null}, "data": {"values": [{}]}, "mark": {"type": "point", "opacity": 0}, "encoding": {}},
   {"width": 117, "height": 120, "title": "ŷ = −0.6",
    "encoding": {"x": {"field": "x", "type": "quantitative", "scale": {"domain": [-2, 2], "nice": false, "zero": false}, "axis": {"values": [-2, -1, 0, 1, 2], "format": "d", "title": "x", "labelExpr": "replace(datum.label, '-', '−')"}},
                 "y": {"field": "h", "type": "quantitative", "stack": null, "scale": {"domain": [0, 1], "nice": false}, "axis": null}},
    "layer": [{"data": {"name": "b15"}, "mark": {"type": "area", "interpolate": "step-after", "color": "#0000ff", "opacity": 0.6}},
              {"data": {"name": "r15"}, "mark": {"type": "line", "interpolate": "step-after", "color": "#ff0000", "strokeWidth": 1.5, "strokeJoin": "miter", "opacity": 0.9}}]},
   {"width": 117, "height": 120, "title": "ŷ = +0.6",
    "encoding": {"x": {"field": "x", "type": "quantitative", "scale": {"domain": [-2, 2], "nice": false, "zero": false}, "axis": {"values": [-2, -1, 0, 1, 2], "format": "d", "title": "x", "labelExpr": "replace(datum.label, '-', '−')"}},
                 "y": {"field": "h", "type": "quantitative", "stack": null, "scale": {"domain": [0, 1], "nice": false}, "axis": null}},
    "layer": [{"data": {"name": "b16"}, "mark": {"type": "area", "interpolate": "step-after", "color": "#0000ff", "opacity": 0.6}},
              {"data": {"name": "r16"}, "mark": {"type": "line", "interpolate": "step-after", "color": "#ff0000", "strokeWidth": 1.5, "strokeJoin": "miter", "opacity": 0.9}}]},
   {"width": 1, "height": 1, "view": {"stroke": null}, "data": {"values": [{}]}, "mark": {"type": "point", "opacity": 0}, "encoding": {}},
   {"width": 117, "height": 120, "title": "ŷ = −0.6",
    "encoding": {"x": {"field": "x", "type": "quantitative", "scale": {"domain": [-2, 2], "nice": false, "zero": false}, "axis": {"values": [-2, -1, 0, 1, 2], "format": "d", "title": "x", "labelExpr": "replace(datum.label, '-', '−')"}},
                 "y": {"field": "h", "type": "quantitative", "stack": null, "scale": {"domain": [0, 1], "nice": false}, "axis": null}},
    "layer": [{"data": {"name": "b17"}, "mark": {"type": "area", "interpolate": "step-after", "color": "#0000ff", "opacity": 0.6}},
              {"data": {"name": "r17"}, "mark": {"type": "line", "interpolate": "step-after", "color": "#ff0000", "strokeWidth": 1.5, "strokeJoin": "miter", "opacity": 0.9}}]},
   {"width": 117, "height": 120, "title": "ŷ = +0.6",
    "encoding": {"x": {"field": "x", "type": "quantitative", "scale": {"domain": [-2, 2], "nice": false, "zero": false}, "axis": {"values": [-2, -1, 0, 1, 2], "format": "d", "title": "x", "labelExpr": "replace(datum.label, '-', '−')"}},
                 "y": {"field": "h", "type": "quantitative", "stack": null, "scale": {"domain": [0, 1], "nice": false}, "axis": null}},
    "layer": [{"data": {"name": "b18"}, "mark": {"type": "area", "interpolate": "step-after", "color": "#0000ff", "opacity": 0.6}},
              {"data": {"name": "r18"}, "mark": {"type": "line", "interpolate": "step-after", "color": "#ff0000", "strokeWidth": 1.5, "strokeJoin": "miter", "opacity": 0.9}}]}
  ]}
],
"spacing": 0
}
